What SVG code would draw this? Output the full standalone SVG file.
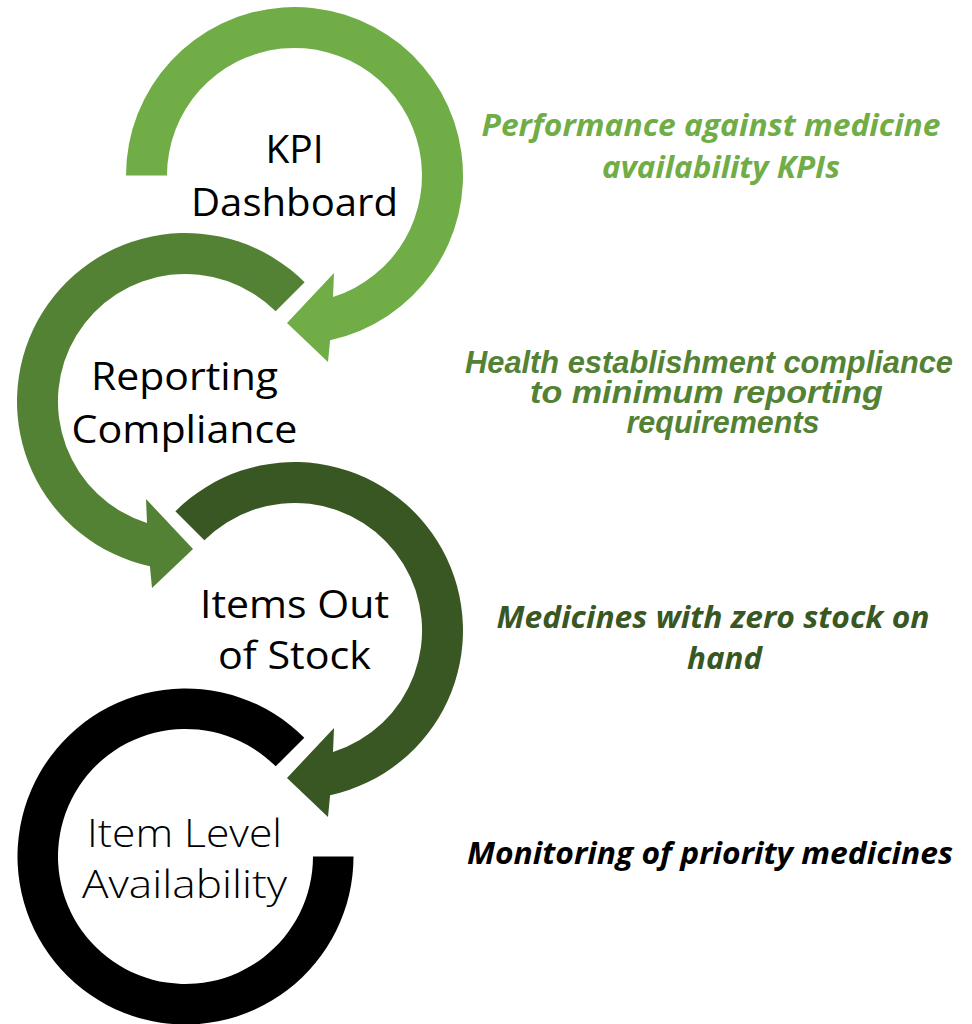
<svg xmlns="http://www.w3.org/2000/svg" width="972" height="1024" viewBox="0 0 972 1024">
  <style>
    .lbl { font-family: "Open Sans", "Liberation Sans", sans-serif; font-size: 39px; fill: #000; text-anchor: middle; }
    .light { font-weight: 300; }
    .desc { font-family: "Open Sans", "Liberation Sans", sans-serif; font-size: 31px; font-weight: bold; font-style: italic; text-anchor: middle; }
    .arial { font-family: "Liberation Sans", Arial, sans-serif; font-size: 30.5px; font-weight: bold; font-style: italic; text-anchor: middle; }
    .c1 { fill: #70AD47; }
    .c2 { fill: #548235; }
    .c3 { fill: #385723; }
    .c4 { fill: #000000; }
  </style>
  <defs>
    <path id="arrowA" d="M -168.5 0 A 168.5 168.5 0 1 1 35.6 164.7 L 33.5 186.5 L -7.5 147.5 L 39.5 97.5 L 38.5 121.5 A 127.5 127.5 0 1 0 -127.5 0 Z"/>
    <path id="arrowB" d="M -119.15 -119.15 A 168.5 168.5 0 1 1 35.6 164.7 L 33.5 186.5 L -7.5 147.5 L 39.5 97.5 L 38.5 121.5 A 127.5 127.5 0 1 0 -90.16 -90.16 Z"/>
  </defs>
  <rect width="972" height="1024" fill="#ffffff"/>

  <g id="connectors">
    <use href="#arrowA" class="c1" transform="translate(294.5,175.5)"/>
    <use href="#arrowB" class="c2" transform="translate(185.5,401.5) scale(-1,1)"/>
    <use href="#arrowB" class="c3" transform="translate(294.5,630.5)"/>
    <path class="c4" transform="translate(185.5,856.5)" d="M 168 0 A 168 168 0 1 1 118.8 -118.8 L 90.16 -90.16 A 127.5 127.5 0 1 0 127.5 0 Z"/>
  </g>

  <g id="node-kpi">
    <text class="lbl" x="294.5" y="163">KPI</text>
    <text class="lbl" x="294.5" y="216" textLength="207" lengthAdjust="spacingAndGlyphs">Dashboard</text>
    <text class="desc c1" x="711" y="136" textLength="459" lengthAdjust="spacingAndGlyphs">Performance against medicine</text>
    <text class="desc c1" x="721" y="178" textLength="238" lengthAdjust="spacingAndGlyphs">availability KPIs</text>
  </g>

  <g id="node-reporting">
    <text class="lbl" x="184.5" y="390" textLength="187" lengthAdjust="spacingAndGlyphs">Reporting</text>
    <text class="lbl" x="184.5" y="443" textLength="226" lengthAdjust="spacingAndGlyphs">Compliance</text>
    <text class="arial c2" x="709" y="373" textLength="488" lengthAdjust="spacingAndGlyphs">Health establishment compliance</text>
    <text class="arial c2" x="706.5" y="403" textLength="353" lengthAdjust="spacingAndGlyphs">to minimum reporting</text>
    <text class="arial c2" x="723" y="433" textLength="193" lengthAdjust="spacingAndGlyphs">requirements</text>
  </g>

  <g id="node-stock">
    <text class="lbl" x="294.5" y="618" textLength="189" lengthAdjust="spacingAndGlyphs">Items Out</text>
    <text class="lbl" x="294.5" y="669" textLength="153" lengthAdjust="spacingAndGlyphs">of Stock</text>
    <text class="desc c3" x="713" y="628" textLength="433" lengthAdjust="spacingAndGlyphs">Medicines with zero stock on</text>
    <text class="desc c3" x="724.5" y="669" textLength="75" lengthAdjust="spacingAndGlyphs">hand</text>
  </g>

  <g id="node-item">
    <text class="lbl light" x="184.5" y="847" textLength="195" lengthAdjust="spacingAndGlyphs">Item Level</text>
    <text class="lbl light" x="184.5" y="898" textLength="205" lengthAdjust="spacingAndGlyphs">Availability</text>
    <text class="desc c4" x="710" y="864" textLength="486" lengthAdjust="spacingAndGlyphs">Monitoring of priority medicines</text>
  </g>
</svg>
